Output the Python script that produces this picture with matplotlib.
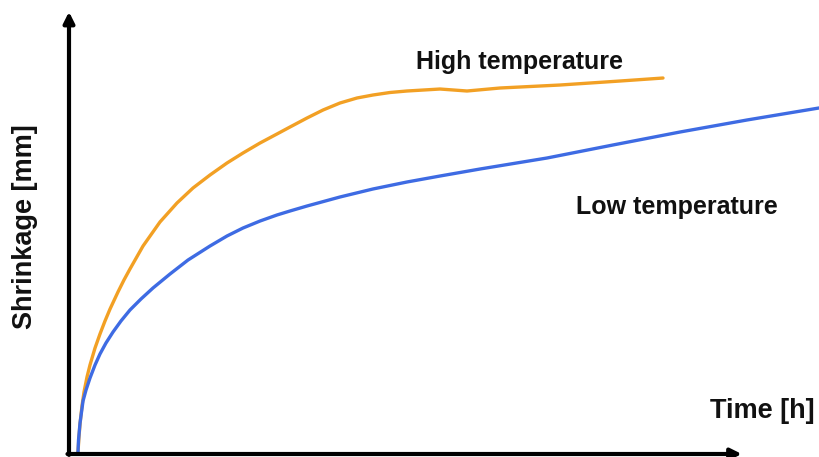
import matplotlib.pyplot as plt

plt.rcParams['font.family'] = ['Liberation Sans', 'DejaVu Sans']

# time [arbitrary units], shrinkage [arbitrary units]
t_low = [0.12, 0.127, 0.147, 0.187, 0.227, 0.28, 0.347, 0.413, 0.493, 0.587, 0.693,
         0.813, 0.96, 1.12, 1.347, 1.587, 1.88, 2.107, 2.32, 2.547, 2.773, 2.947,
         3.173, 3.613, 4.053, 4.507, 4.947, 5.48, 6.373, 7.253, 8.147, 9.04, 10.0]
s_low = [0.045, 0.318, 0.705, 1.205, 1.455, 1.727, 2.023, 2.273, 2.523, 2.773, 3.023,
         3.273, 3.523, 3.773, 4.091, 4.409, 4.727, 4.955, 5.136, 5.295, 5.432, 5.523,
         5.636, 5.841, 6.023, 6.182, 6.318, 6.477, 6.727, 7.023, 7.318, 7.591, 7.864]

t_high = [0.12, 0.133, 0.147, 0.173, 0.2, 0.24, 0.28, 0.347, 0.413, 0.48, 0.547,
          0.653, 0.733, 0.813, 0.987, 1.213, 1.44, 1.653, 1.88, 2.107, 2.32, 2.547,
          2.773, 2.947, 3.173, 3.387, 3.613, 3.84, 4.053, 4.28, 4.507, 4.947, 5.307,
          5.747, 6.547, 7.347, 7.92]
s_high = [0.045, 0.386, 0.682, 1.091, 1.409, 1.75, 2.023, 2.409, 2.727, 3.023, 3.295,
          3.682, 3.955, 4.205, 4.727, 5.273, 5.705, 6.045, 6.341, 6.614, 6.841, 7.068,
          7.273, 7.432, 7.636, 7.818, 7.977, 8.091, 8.159, 8.216, 8.25, 8.295, 8.25,
          8.318, 8.386, 8.477, 8.545]

fig = plt.figure(figsize=(8.19, 4.57), dpi=100)
ax = fig.add_axes([69 / 819, 3 / 457, 750 / 819, 440 / 457])
ax.set_xlim(0, 10)
ax.set_ylim(0, 10)
ax.axis('off')

ax.plot(t_high, s_high, color='#F2A024', lw=2.4, solid_capstyle='round', solid_joinstyle='round')
ax.plot(t_low, s_low, color='#3E6BE3', lw=2.4, solid_capstyle='round', solid_joinstyle='round')

# axes with arrows
arr = dict(arrowstyle='-|>', lw=3, color='black', mutation_scale=16, shrinkA=0, shrinkB=0)
ax.annotate('', xy=(0, 10.05), xytext=(0, -0.02), arrowprops=arr, annotation_clip=False)
ax.annotate('', xy=(8.97, 0), xytext=(-0.02, 0), arrowprops=arr, annotation_clip=False)

ax.text(6.0, 8.92, 'High temperature', fontsize=18, fontweight='bold',
        ha='center', va='center', color='#111111')
ax.text(8.1, 5.61, 'Low temperature', fontsize=18, fontweight='bold',
        ha='center', va='center', color='#111111')
ax.text(9.24, 0.98, 'Time [h]', fontsize=19.5, fontweight='bold',
        ha='center', va='center', color='#111111')
fig.text(25 / 819, 1 - 227 / 457, 'Shrinkage [mm]', fontsize=19.5, fontweight='bold',
         rotation=90, ha='center', va='center', color='#111111')

fig.savefig('out.png', dpi=100)
